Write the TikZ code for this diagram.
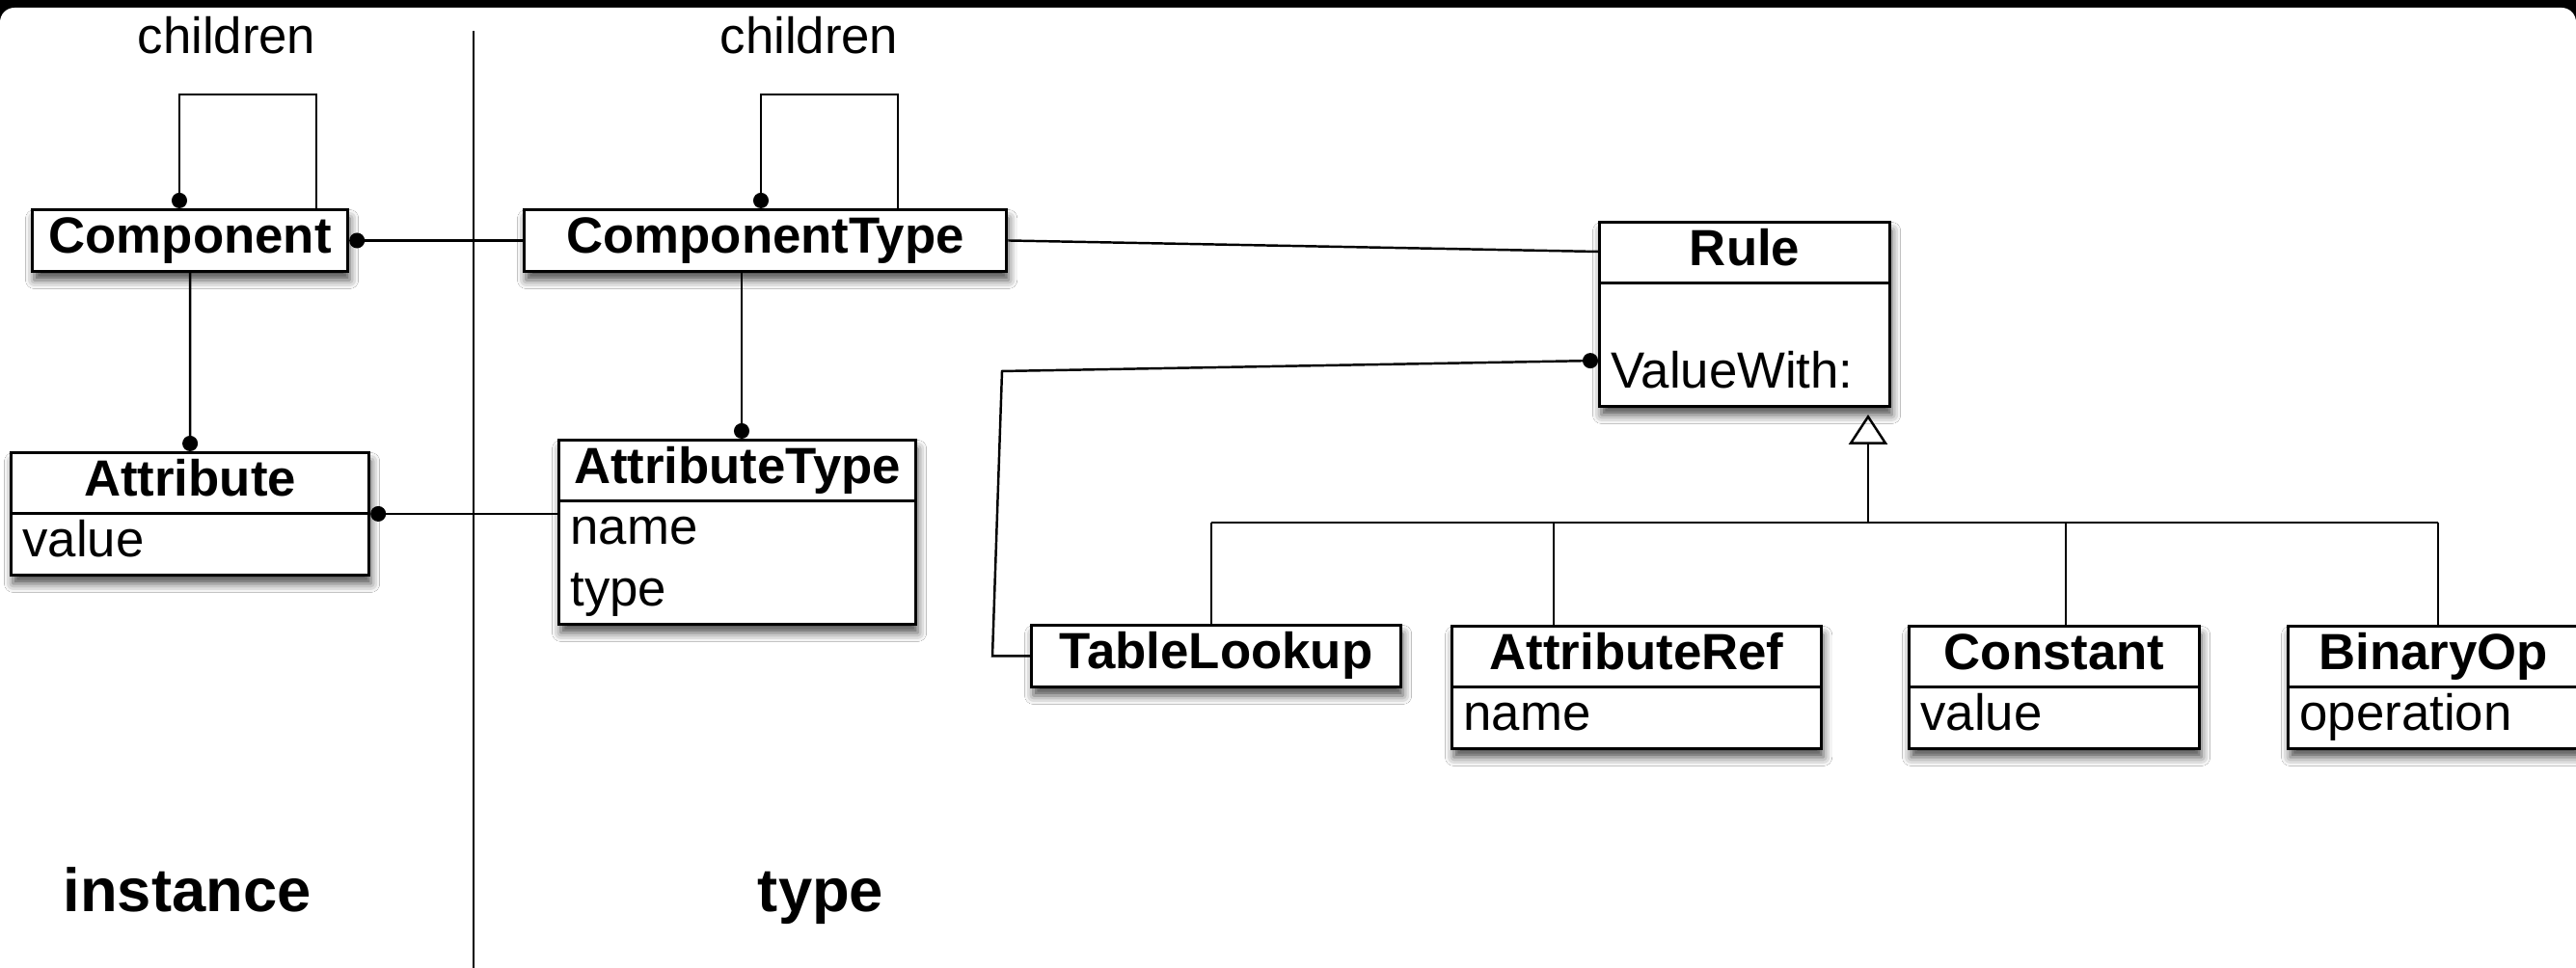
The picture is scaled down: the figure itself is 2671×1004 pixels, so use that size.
\documentclass[tikz,border=0pt]{standalone}
\usepackage{fontspec}
\setmainfont{Liberation Sans}
\usetikzlibrary{positioning}
\usetikzlibrary{arrows.meta}
\usetikzlibrary{calc}
\usetikzlibrary{shapes.multipart}
\usetikzlibrary{shadows.blur}

\newcommand{\umlfont}{\fontsize{15}{18.2}\selectfont}
\newcommand{\sidefont}{\fontsize{18}{22}\selectfont\bfseries}

\tikzset{
  umlbox/.style={draw, line width=0.85pt, fill=white, font=\umlfont, inner xsep=0.12cm, inner ysep=0pt, anchor=north west,
    blur shadow={shadow xshift=0.02cm, shadow yshift=-0.09cm, shadow blur radius=0.09cm, shadow opacity=70}},
  umlclass/.style={umlbox, rectangle split, rectangle split parts=2, rectangle split part align={center,left}, align=left, inner ysep=-0.5pt},
  link/.style={line width=0.7pt},
  ball/.style={link, -{Circle[length=0.16cm]}},
}

\begin{document}
\begin{tikzpicture}[x=0.01cm, y=0.01cm]
  \useasboundingbox (0,0) rectangle (2671,1004);
  % frame of the slide
  \fill[black] (0,0) rectangle (2671,1004);
  \fill[white, rounded corners=0.15cm] (0,-40) rectangle (2671,996);

  % instance / type divider
  \draw[line width=0.6pt] (491,972) -- (491,0);

  % classes
  \node[umlbox, minimum width=3.27cm] (comp) at (32,788) {\bfseries Component\strut};
  \node[umlbox, minimum width=5cm] (ctype) at (542,788) {\bfseries ComponentType\strut};
  \node[umlclass, minimum width=3.71cm] (attr) at (10,536) {\bfseries Attribute\strut \nodepart{two} value\strut};
  \node[umlclass, minimum width=3.7cm] (atype) at (578,549) {\bfseries AttributeType\strut \nodepart{two} name\strut\\type\strut};
  \node[umlclass, minimum width=3.01cm] (rule) at (1657,775) {\bfseries Rule\strut \nodepart{two} \strut\\ValueWith:\strut};
  \node[umlbox, minimum width=3.83cm] (tlookup) at (1068,357) {\bfseries TableLookup\strut};
  \node[umlclass, minimum width=3.83cm] (aref) at (1504,356) {\bfseries AttributeRef\strut \nodepart{two} name\strut};
  \node[umlclass, minimum width=3.01cm] (const) at (1978,356) {\bfseries Constant\strut \nodepart{two} value\strut};
  \node[umlclass, minimum width=3.01cm] (binop) at (2371,356) {\bfseries BinaryOp\strut \nodepart{two} operation\strut};

  % labels
  \node[font=\umlfont, anchor=base] (kids1) at (235,948) {children};
  \node[font=\umlfont, anchor=base] (kids2) at (839,948) {children};
  \node[font=\sidefont, anchor=base] (inst) at (194,58) {instance};
  \node[font=\sidefont, anchor=base] (typ) at (851,58) {type};

  % self associations
  \draw[ball] ($(comp.north west)+(296,0)$) -- ++(0,118) -| ($(comp.north west)+(154,0)$);
  \draw[ball] ($(ctype.north west)+(389,0)$) -- ++(0,118) -| ($(ctype.north west)+(247,0)$);

  % associations
  \draw[ball] (ctype.west) -- (comp.east);
  \draw[ball] (comp.south) -- (attr.north);
  \draw[ball] (atype.west |- attr.text split east) -- (attr.text split east);
  \draw[ball] ($(ctype.south west)+(227,0)$) -- ($(atype.north west)+(191,0)$);
  \draw[link] (ctype.east) -- ($(rule.north west)+(0,-32)$);
  \draw[ball] (tlookup.west) -- ++(-39,0) -- (1039,619) -- ($(rule.text split west)+(0,-80)$);

  % generalization
  \coordinate (b1) at (1256,462);
  \coordinate (b2) at (1611,462);
  \coordinate (b3) at (2142,462);
  \coordinate (b4) at (2528,462);
  \coordinate (gen) at (1937,462);
  \draw[link] (b1) -- (b4);
  \foreach \b/\n in {b1/tlookup, b2/aref, b3/const, b4/binop}
    \draw[link] (\b) -- (\b |- \n.north);
  \draw[link, -{Triangle[open, length=0.31cm, width=0.4cm]}, shorten >=0.07cm] (gen) -- (gen |- rule.south);
\end{tikzpicture}
\end{document}
